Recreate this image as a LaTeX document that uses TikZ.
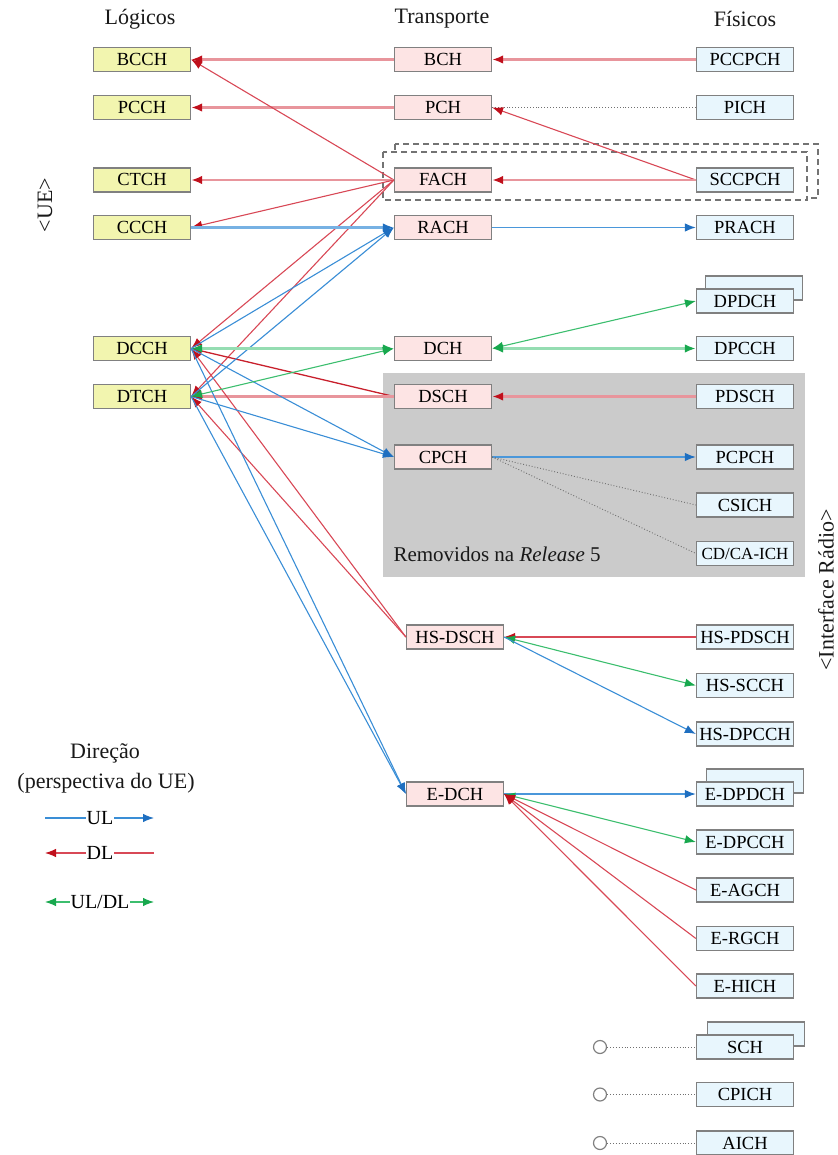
\documentclass[tikz,border=0pt]{standalone}
\usepackage{fontspec}
\setmainfont{Liberation Serif}
\usetikzlibrary{arrows.meta}

\definecolor{lfill}{HTML}{F2F5AF}
\definecolor{tfill}{HTML}{FDE4E4}
\definecolor{pfill}{HTML}{E8F6FD}
\definecolor{boxline}{HTML}{808080}
\definecolor{grayzone}{HTML}{CBCBCB}
\definecolor{redln}{HTML}{D84856}
\definecolor{redpale}{HTML}{E8959C}
\definecolor{reddark}{HTML}{C8202C}
\definecolor{redtip}{HTML}{C0101C}
\definecolor{blueln}{HTML}{3A8ED6}
\definecolor{bluemid}{HTML}{4A97DA}
\definecolor{bluetip}{HTML}{1F6FC0}
\definecolor{greenln}{HTML}{3CBE6E}
\definecolor{greenpale}{HTML}{95DDB2}
\definecolor{greentip}{HTML}{18A84E}
\definecolor{dotgray}{HTML}{707070}

\tikzset{
  chbox/.style={draw=boxline, line width=1.2pt, minimum width=97pt, minimum height=24pt,
    inner sep=0pt, text height=12pt, text depth=0pt, text=black,
    font=\fontsize{18.5}{18.5}\selectfont},
  lbox/.style={chbox, fill=lfill},
  tbox/.style={chbox, fill=tfill},
  pbox/.style={chbox, fill=pfill},
  hdr/.style={font=\fontsize{22}{22}\selectfont, text=black!90},
  redhead/.tip={Latex[length=11pt,width=8.5pt,color=redtip]},
  bluehead/.tip={Latex[length=11pt,width=8.5pt,color=bluetip]},
  greenhead/.tip={Latex[length=11pt,width=8.5pt,color=greentip]},
  dl/.style={draw=redln, line width=1.1pt, -redhead},
  dlD/.style={draw=reddark, line width=1.3pt, -redhead},
  dlT/.style={draw=redpale, line width=2.6pt, -redhead},
  ul/.style={draw=blueln, line width=1.1pt, -bluehead},
  ulM/.style={draw=bluemid, line width=1.5pt, -bluehead},
  ulT/.style={draw=bluemid!75, line width=2.6pt, -bluehead},
  udl/.style={draw=greenln, line width=1.1pt, greenhead-greenhead},
  udlT/.style={draw=greenpale, line width=2.6pt, greenhead-greenhead},
  dotl/.style={draw=dotgray, line width=0.9pt, dotted},
}

\begin{document}
\begin{tikzpicture}[x=1pt,y=-1pt]
\useasboundingbox (0,0) rectangle (837,1155);

% zone of channels removed in Release 5
\fill[grayzone] (383,373) rectangle (805,577);
\node[anchor=west, font=\fontsize{21}{21}\selectfont, text=black!90] (rel5) at (390,554)
  {Removidos na \textit{Release} 5};

% stacked dashed frame around FACH / SCCPCH
\draw[boxline!90!black, line width=1.2pt, dash pattern=on 6pt off 4pt] (395,144) rectangle (818,198);
\draw[boxline!90!black, line width=1.2pt, dash pattern=on 6pt off 4pt, fill=white] (383,152) rectangle (807,200);

% column headings
\node[hdr] (hlog) at (140,19) {Lógicos};
\node[hdr] (htr) at (442,19) {Transporte};
\node[hdr] (hfis) at (745,19) {Físicos};
\node[hdr, rotate=90] (hue) at (45,205) {<UE>};
\node[hdr, rotate=90] (hrad) at (826,590) {<Interface Rádio>};

% logical channels
\node[lbox] (bcch) at (142,59.5) {BCCH};
\node[lbox] (pcch) at (142,107.5) {PCCH};
\node[lbox] (ctch) at (142,180) {CTCH};
\node[lbox] (ccch) at (142,227.5) {CCCH};
\node[lbox] (dcch) at (142,348.5) {DCCH};
\node[lbox] (dtch) at (142,396.5) {DTCH};

% transport channels
\node[tbox] (bch) at (443,59.5) {BCH};
\node[tbox] (pch) at (443,107.5) {PCH};
\node[tbox] (fach) at (443,180) {FACH};
\node[tbox] (rach) at (443,227.5) {RACH};
\node[tbox] (dch) at (443,348.5) {DCH};
\node[tbox] (dsch) at (443,396.5) {DSCH};
\node[tbox] (cpch) at (443,457) {CPCH};
\node[tbox] (hsdsch) at (455,637) {HS-DSCH};
\node[tbox] (edch) at (455,794) {E-DCH};

% physical channels (with stacked copies behind some of them)
\node[pbox] (dpdchbk) at (754,288) {};
\node[pbox] (edpdchbk) at (755,781) {};
\node[pbox] (schbk) at (756,1034) {};
\node[pbox] (pccpch) at (745,59.5) {PCCPCH};
\node[pbox] (pich) at (745,107.5) {PICH};
\node[pbox] (sccpch) at (745,180) {SCCPCH};
\node[pbox] (prach) at (745,227.5) {PRACH};
\node[pbox] (dpdch) at (745,301) {DPDCH};
\node[pbox] (dpcch) at (745,348.5) {DPCCH};
\node[pbox] (pdsch) at (745,396.5) {PDSCH};
\node[pbox] (pcpch) at (745,457) {PCPCH};
\node[pbox] (csich) at (745,505) {CSICH};
\node[pbox, font=\fontsize{17}{17}\selectfont] (cdcaich) at (745,553.5) {CD/CA-ICH};
\node[pbox] (hspdsch) at (745,637) {HS-PDSCH};
\node[pbox] (hsscch) at (745,685.5) {HS-SCCH};
\node[pbox] (hsdpcch) at (745,734) {HS-DPCCH};
\node[pbox] (edpdch) at (745,794) {E-DPDCH};
\node[pbox] (edpcch) at (745,842) {E-DPCCH};
\node[pbox] (eagch) at (745,890) {E-AGCH};
\node[pbox] (ergch) at (745,938.5) {E-RGCH};
\node[pbox] (ehich) at (745,986) {E-HICH};
\node[pbox] (sch) at (745,1047) {SCH};
\node[pbox] (cpich) at (745,1094.5) {CPICH};
\node[pbox] (aich) at (745,1143) {AICH};

% open terminals of the physical-only channels
\node[circle, draw=boxline, line width=1.2pt, minimum size=13pt, inner sep=0pt, fill=white] (tsch) at (600,1047) {};
\node[circle, draw=boxline, line width=1.2pt, minimum size=13pt, inner sep=0pt, fill=white] (tcpich) at (600,1094.5) {};
\node[circle, draw=boxline, line width=1.2pt, minimum size=13pt, inner sep=0pt, fill=white] (taich) at (600,1143) {};
\draw[dotl] (tsch.east) -- (sch.west);
\draw[dotl] (tcpich.east) -- (cpich.west);
\draw[dotl] (taich.east) -- (aich.west);

% transport -> logical mapping
\draw[dlT] (bch.west) -- (bcch.east);
\draw[dlT] (pch.west) -- (pcch.east);
\draw[dl] (fach.west) -- (bcch.east);
\draw[dlT] (fach.west) -- (ctch.east);
\draw[dl] (fach.west) -- (ccch.east);
\draw[dl] (fach.west) -- (dcch.east);
\draw[dl] (fach.west) -- (dtch.east);
\draw[dlD] (dsch.west) -- (dcch.east);
\draw[dlT] (dsch.west) -- (dtch.east);
\draw[dl] (hsdsch.west) -- (dcch.east);
\draw[dl] (hsdsch.west) -- (dtch.east);
\draw[ulT] (ccch.east) -- (rach.west);
\draw[ul] (dcch.east) -- (rach.west);
\draw[ul] (dtch.east) -- (rach.west);
\draw[ul] (dcch.east) -- (cpch.west);
\draw[ul] (dtch.east) -- (cpch.west);
\draw[ul] (dcch.east) -- (edch.west);
\draw[ul] (dtch.east) -- (edch.west);
\draw[udlT] (dcch.east) -- (dch.west);
\draw[udl] (dtch.east) -- (dch.west);

% physical -> transport mapping
\draw[dlT] (pccpch.west) -- (bch.east);
\draw[dotl] (pich.west) -- (pch.east);
\draw[dl] (sccpch.west) -- (pch.east);
\draw[dlT] (sccpch.west) -- (fach.east);
\draw[ulM] (rach.east) -- (prach.west);
\draw[udl] (dch.east) -- (dpdch.west);
\draw[udlT] (dch.east) -- (dpcch.west);
\draw[dlT] (pdsch.west) -- (dsch.east);
\draw[ulM] (cpch.east) -- (pcpch.west);
\draw[dotl] (cpch.east) -- (csich.west);
\draw[dotl] (cpch.east) -- (cdcaich.west);
\draw[dl] (hspdsch.west) -- (hsdsch.east);
\draw[udl] (hsdsch.east) -- (hsscch.west);
\draw[ul] (hsdsch.east) -- (hsdpcch.west);
\draw[ulM] (edch.east) -- (edpdch.west);
\draw[udl] (edch.east) -- (edpcch.west);
\draw[dl] (eagch.west) -- (edch.east);
\draw[dl] (ergch.west) -- (edch.east);
\draw[dl] (ehich.west) -- (edch.east);

% legend
\node[hdr] (ldir) at (105,753) {Direção};
\node[hdr] (lper) at (106,783) {(perspectiva do UE)};
\node[font=\fontsize{20}{20}\selectfont, inner sep=0.5pt] (lul) at (100,818) {UL};
\node[font=\fontsize{20}{20}\selectfont, inner sep=0.5pt] (ldl) at (100,853) {DL};
\node[font=\fontsize{20}{20}\selectfont, inner sep=0.5pt] (luldl) at (100,902) {UL/DL};
\coordinate (ulA) at (45,818); \coordinate (ulB) at (154,818);
\coordinate (dlA) at (45,853); \coordinate (dlB) at (154,853);
\coordinate (udA) at (45,902); \coordinate (udB) at (154,902);
\draw[draw=blueln, line width=1.1pt] (ulA) -- (lul.west);
\draw[ul] (lul.east) -- (ulB);
\draw[dl] (ldl.west) -- (dlA);
\draw[draw=redln, line width=1.1pt] (ldl.east) -- (dlB);
\draw[draw=greenln, line width=1.1pt, greenhead-] (udA) -- (luldl.west);
\draw[draw=greenln, line width=1.1pt, -greenhead] (luldl.east) -- (udB);
\end{tikzpicture}
\end{document}
